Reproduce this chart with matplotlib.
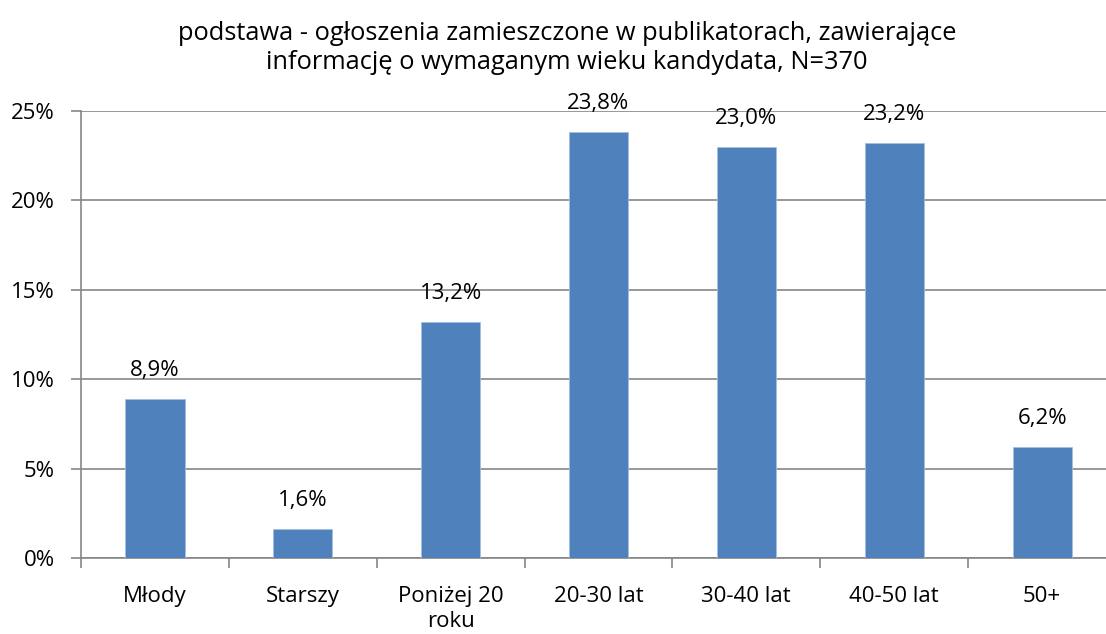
import matplotlib
matplotlib.use('Agg')
import matplotlib.pyplot as plt
from matplotlib.ticker import FuncFormatter

categories = ["Młody", "Starszy", "Poniżej 20\nroku", "20-30 lat", "30-40 lat", "40-50 lat", "50+"]
values = [8.9, 1.6, 13.2, 23.8, 23.0, 23.2, 6.2]
title = "podstawa - ogłoszenia zamieszczone w publikatorach, zawierające\ninformację o wymaganym wieku kandydata, N=370"

plt.rcParams['font.family'] = ['Open Sans', 'DejaVu Sans']

fig = plt.figure(figsize=(11.06, 6.34), dpi=100)
ax = fig.add_axes([81 / 1106, 76 / 634, 1035 / 1106, 447 / 634])

x = range(len(categories))
ax.bar(x, values, width=0.4, color="#4F81BD", edgecolor="#A7BEDE", linewidth=0.6, zorder=3)

for xi, v in zip(x, values):
    ax.annotate(f"{v:.1f}%".replace(".", ","), (xi, v), xytext=(0, 13), textcoords="offset points",
                ha="center", va="bottom", fontsize=16)

ax.set_xlim(-0.5, len(categories) - 0.5)
ax.set_ylim(0, 25)
ax.set_yticks([0, 5, 10, 15, 20, 25])
ax.yaxis.set_major_formatter(FuncFormatter(lambda v, p: f"{v:.0f}%"))
ax.yaxis.grid(True, color="#868686", linewidth=1.2, zorder=0)

ax.set_xticks([i + 0.5 for i in range(-1, len(categories))])
ax.set_xticklabels([])
ax.set_xticks(list(x), minor=True)
ax.set_xticklabels(categories, minor=True, fontsize=16, linespacing=1.25)
ax.tick_params(axis="x", which="minor", length=0, pad=20)
ax.tick_params(axis="x", which="major", length=7, width=1.2, color="#868686")
ax.tick_params(axis="y", length=7, width=1.2, color="#868686", labelsize=16, pad=12)

for s in ["top", "right"]:
    ax.spines[s].set_visible(False)
for s in ["left", "bottom"]:
    ax.spines[s].set_color("#868686")
    ax.spines[s].set_linewidth(1.2)

fig.text(567 / 1106, 1 - 48 / 634, title, ha="center", va="center", fontsize=18.3, linespacing=1.2)

fig.savefig("out.png", dpi=100)
